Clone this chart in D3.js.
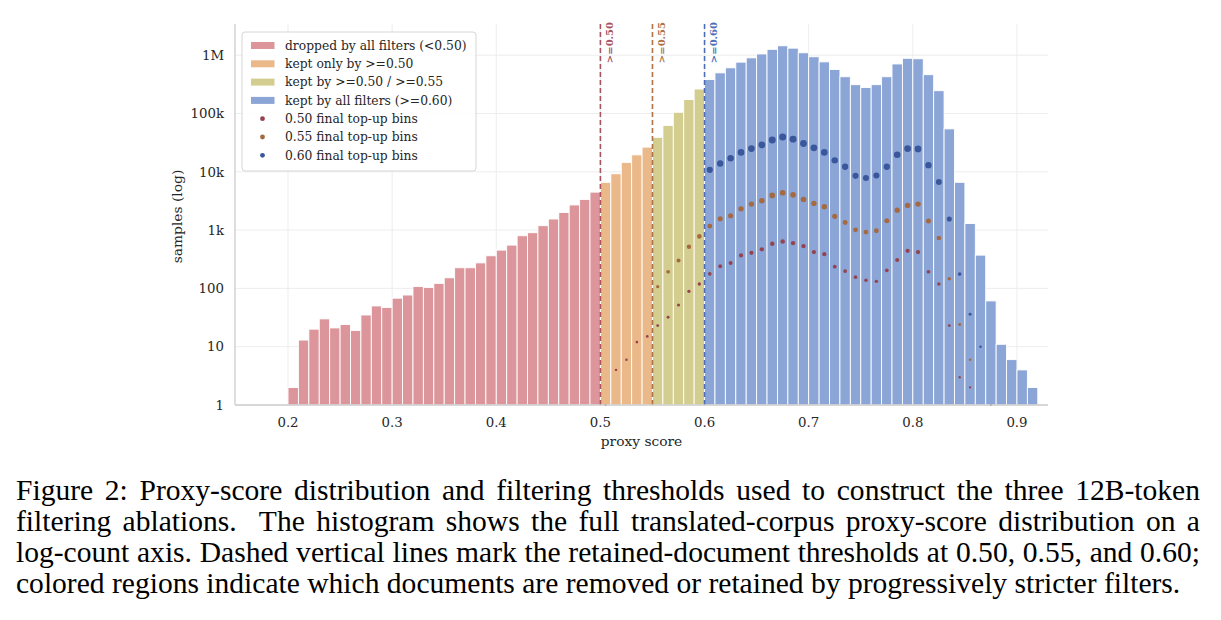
<!DOCTYPE html>
<html>
<head>
<meta charset="utf-8">
<script src="https://cdn.jsdelivr.net/npm/d3@7"></script>
<style>
  body { margin: 0; background: #fff; }
</style>
</head>
<body>
<div id="chart"></div>
<script>
// histogram bins (left edge of each 0.01-wide bin)
const binStarts = [0.20,0.21,0.22,0.23,0.24,0.25,0.26,0.27,0.28,0.29,
                   0.30,0.31,0.32,0.33,0.34,0.35,0.36,0.37,0.38,0.39,
                   0.40,0.41,0.42,0.43,0.44,0.45,0.46,0.47,0.48,0.49,
                   0.50,0.51,0.52,0.53,0.54,0.55,0.56,0.57,0.58,0.59,
                   0.60,0.61,0.62,0.63,0.64,0.65,0.66,0.67,0.68,0.69,
                   0.70,0.71,0.72,0.73,0.74,0.75,0.76,0.77,0.78,0.79,
                   0.80,0.81,0.82,0.83,0.84,0.85,0.86,0.87,0.88,0.89,
                   0.90,0.91];
const counts = [2,13,20,30,21,24,19,35,50,47,
                68,77,108,104,122,152,226,226,274,363,
                454,553,800,902,1190,1550,2000,2700,3360,4480,
                6600,9250,14500,19500,26500,39000,62500,105000,174000,263000,
                383000,498000,607000,760000,900000,1050000,1260000,1450000,1320000,1100000,
                940000,768000,569000,427000,312000,280000,312000,427000,708000,885000,
                868000,463000,246000,54500,6600,1300,372,61,11,6,
                4,2];

// final top-up bins per threshold
const topup50Bins = [0.50,0.51,0.52,0.53,0.54,0.55,0.56,0.57,0.58,0.59,0.60,0.61,0.62,0.63,0.64,0.65,0.66,0.67,
                     0.68,0.69,0.70,0.71,0.72,0.73,0.74,0.75,0.76,0.77,0.78,0.79,0.80,0.81,0.82,0.83,0.84,0.85];
const topup50 = [1,4,6,12,15,23,32,52,89,119,178,240,272,368,407,467,582,640,
                 598,532,419,386,236,198,156,138,132,204,306,442,419,193,119,23,3,2];
const topup55Bins = [0.55,0.56,0.57,0.58,0.59,0.60,0.61,0.62,0.63,0.64,0.65,0.66,0.67,0.68,0.69,0.70,
                     0.71,0.72,0.73,0.74,0.75,0.76,0.77,0.78,0.79,0.80,0.81,0.82,0.83,0.84,0.85];
const topup55 = [107,193,302,518,780,1170,1570,1760,2320,2790,3200,3940,4370,4030,3360,2870,
                 2510,1720,1350,1010,925,975,1440,2200,2650,2790,1430,730,146,24,6];
const topup60Bins = [0.60,0.61,0.62,0.63,0.64,0.65,0.66,0.67,0.68,0.69,0.70,0.71,0.72,0.73,
                     0.74,0.75,0.76,0.77,0.78,0.79,0.80,0.81,0.82,0.83,0.84,0.85,0.86,0.87];
const topup60 = [10800,13900,17000,21500,25000,29000,35000,39500,36300,30600,25800,21500,15700,12200,
                 8520,7800,8660,12200,19600,25000,24700,13000,6700,1550,176,36,10,1];

const thresholds = [0.50, 0.55, 0.60];
const thresholdLabels = [">=0.50", ">=0.55", ">=0.60"];
const xTicks = [0.2,0.3,0.4,0.5,0.6,0.7,0.8,0.9];
const yTicks = [1,10,100,1000,10000,100000,1000000];
const yTickLabels = ["1","10","100","1k","10k","100k","1M"];
const legendLabels = ["dropped by all filters (<0.50)", "kept only by >=0.50", "kept by >=0.50 / >=0.55",
                      "kept by all filters (>=0.60)", "0.50 final top-up bins", "0.55 final top-up bins",
                      "0.60 final top-up bins"];
const captionLines = [
  "Figure 2: Proxy-score distribution and filtering thresholds used to construct the three 12B-token",
  "filtering ablations.  The histogram shows the full translated-corpus proxy-score distribution on a",
  "log-count axis. Dashed vertical lines mark the retained-document thresholds at 0.50, 0.55, and 0.60;",
  "colored regions indicate which documents are removed or retained by progressively stricter filters."
];

const barColors = ["#dc969b", "#ebb88a", "#d3ce8f", "#8ba5d6"];
const lineColors = ["#a8555f", "#ad7248", "#4d6db5"];
const dotColors = ["#94434f", "#a56a42", "#3a579c"];

const svgWidth = 1221, svgHeight = 620;
const margin = {top: 24, right: 173, bottom: 215, left: 235},
      width = svgWidth - margin.left - margin.right,
      height = svgHeight - margin.top - margin.bottom;

const svg = d3.select("#chart").append("svg")
    .attr("width", svgWidth)
    .attr("height", svgHeight)
    .style("font-family", "'DejaVu Serif', serif")
    .style("display", "block");

const x = d3.scaleLinear().domain([0.1491, 0.9298]).range([0, width]);
const y = d3.scaleLog().domain([1, Math.pow(10, 6.535)]).range([height, 0]);

const g = svg.append("g").attr("transform", "translate(" + margin.left + "," + margin.top + ")");

// grid
g.append("g").selectAll("line").data(xTicks).enter().append("line")
    .attr("x1", d => x(d)).attr("x2", d => x(d))
    .attr("y1", 0).attr("y2", height)
    .attr("stroke", "#ebebeb").attr("stroke-width", 0.9);
g.append("g").selectAll("line").data(yTicks).enter().append("line")
    .attr("x1", 0).attr("x2", width)
    .attr("y1", d => y(d)).attr("y2", d => y(d))
    .attr("stroke", "#ebebeb").attr("stroke-width", 0.9);

function region(b) {
  if (b < 0.495) return 0;
  if (b < 0.545) return 1;
  if (b < 0.595) return 2;
  return 3;
}

const bars = binStarts.map((b, i) => ({bin: b, value: counts[i]}));
g.selectAll(".bar")
    .data(bars)
  .enter().append("rect")
    .attr("class", "bar")
    .attr("x", d => x(d.bin))
    .attr("y", d => y(d.value))
    .attr("width", d => x(d.bin + 0.01) - x(d.bin))
    .attr("height", d => height - y(d.value))
    .attr("fill", d => barColors[region(d.bin)])
    .attr("stroke", "#fff")
    .attr("stroke-width", 0.9);

// threshold lines
thresholds.forEach((t, i) => {
  g.append("line")
      .attr("x1", x(t)).attr("x2", x(t))
      .attr("y1", 0).attr("y2", height)
      .attr("stroke", lineColors[i])
      .attr("stroke-width", 1.6)
      .attr("stroke-dasharray", "5,3");
  g.append("text")
      .attr("transform", "translate(" + (x(t) + 12.5) + "," + -2 + ") rotate(-90)")
      .attr("text-anchor", "end")
      .attr("font-size", "10px")
      .attr("font-weight", "bold")
      .attr("fill", lineColors[i])
      .text(thresholdLabels[i]);
});

// top-up dots
const r = d3.scaleLinear().domain([0, 1, 2, 3, 4, 4.6]).range([1.1, 1.3, 1.65, 2.4, 3.1, 3.5]).clamp(true);
const dotSeries = [[topup50Bins, topup50], [topup55Bins, topup55], [topup60Bins, topup60]];
dotSeries.forEach((s, i) => {
  const pts = s[0].map((b, j) => ({bin: b, value: s[1][j]}));
  g.append("g").selectAll("circle").data(pts).enter().append("circle")
      .attr("cx", d => x(d.bin + 0.005))
      .attr("cy", d => y(d.value))
      .attr("r", d => r(Math.log10(d.value)))
      .attr("fill", dotColors[i]);
});

// spines
g.append("line").attr("x1", 0).attr("x2", 0).attr("y1", 0).attr("y2", height)
    .attr("stroke", "#cccccc").attr("stroke-width", 1.3);
g.append("line").attr("x1", 0).attr("x2", width).attr("y1", height).attr("y2", height)
    .attr("stroke", "#cccccc").attr("stroke-width", 1.3);

// tick labels
g.append("g").selectAll("text").data(xTicks).enter().append("text")
    .attr("x", d => x(d)).attr("y", height + 22)
    .attr("text-anchor", "middle")
    .attr("font-size", "13.3px").attr("fill", "#262626")
    .text(d => d3.format(".1f")(d));
g.append("g").selectAll("text").data(yTicks).enter().append("text")
    .attr("x", -11).attr("y", d => y(d))
    .attr("dy", "0.36em")
    .attr("text-anchor", "end")
    .attr("font-size", "13.3px").attr("fill", "#262626")
    .text((d, i) => yTickLabels[i]);

g.append("text")
    .attr("x", width / 2).attr("y", height + 41)
    .attr("text-anchor", "middle")
    .attr("font-size", "13.8px").attr("fill", "#262626")
    .text("proxy score");
g.append("text")
    .attr("transform", "translate(" + -53 + "," + (height / 2 + 2) + ") rotate(-90)")
    .attr("text-anchor", "middle")
    .attr("font-size", "13.8px").attr("fill", "#262626")
    .text("samples (log)");

// legend
const leg = g.append("g").attr("transform", "translate(7,8)");
leg.append("rect")
    .attr("width", 234).attr("height", 139).attr("rx", 3)
    .attr("fill", "#fff").attr("fill-opacity", 0.85)
    .attr("stroke", "#d6d6d6").attr("stroke-width", 1);
legendLabels.forEach((lab, i) => {
  const ly = 13.5 + i * 18.3;
  if (i < 4) {
    leg.append("rect").attr("x", 9).attr("y", ly - 3.5).attr("width", 23.5).attr("height", 7)
        .attr("fill", barColors[i]);
  } else {
    leg.append("circle").attr("cx", 20.5).attr("cy", ly).attr("r", 2.4)
        .attr("fill", dotColors[i - 4]);
  }
  leg.append("text").attr("x", 43).attr("y", ly).attr("dy", "0.35em")
      .attr("font-size", "12.3px").attr("fill", "#262626")
      .text(lab);
});

// caption: size so the last line spans like the original, justify the others
const cap = svg.append("g")
    .style("font-family", "'Liberation Serif', 'Tinos', 'Times New Roman', 'Nimbus Roman', 'DejaVu Serif Condensed', 'DejaVu Serif', serif")
    .style("font-stretch", "condensed")
    .attr("fill", "#000");
const capLeft = 16, capWidth = 1184, lastWidth = 1165;
const capBase = [499.5, 530.7, 561.7, 592.5];
let fs = 24;
const probe = cap.append("text").attr("font-size", fs + "px").text(captionLines[3]);
fs = fs * lastWidth / probe.node().getComputedTextLength();
probe.remove();
captionLines.forEach((line, i) => {
  const t = cap.append("text")
      .attr("x", capLeft).attr("y", capBase[i])
      .attr("font-size", fs + "px")
      .attr("xml:space", "preserve")
      .text(line);
  if (i < 3) {
    const gaps = line.split(" ").length - 1;
    const extra = (capWidth - t.node().getComputedTextLength()) / gaps;
    t.attr("word-spacing", extra);
  }
});
</script>
</body>
</html>
